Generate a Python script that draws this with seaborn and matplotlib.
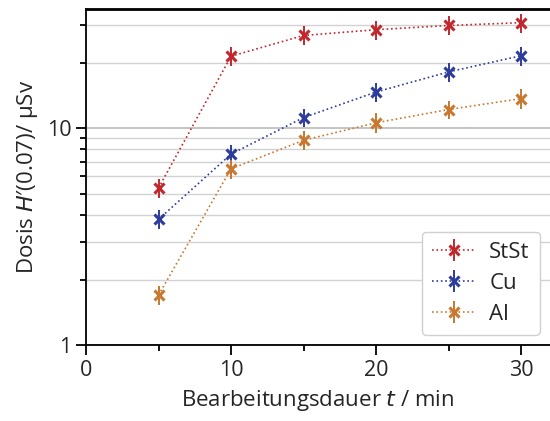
import numpy as np
import pandas as pd
import matplotlib
matplotlib.use("Agg")
import matplotlib.pyplot as plt
import seaborn as sns
from matplotlib.ticker import LogLocator, NullFormatter, FixedLocator, FixedFormatter

# ---- data ----
t_min = [5, 10, 15, 20, 25, 30]
stst = [5.3, 21.5, 26.8, 28.5, 29.8, 30.7]
stst_err = [0.53, 2.1, 2.7, 2.9, 3.0, 3.1]
cu = [3.8, 7.6, 11.2, 14.7, 18.2, 21.6]
cu_err = [0.38, 0.76, 1.1, 1.5, 1.8, 2.2]
al = [1.70, 6.5, 8.8, 10.6, 12.2, 13.7]
al_err = [0.17, 0.65, 0.9, 1.1, 1.2, 1.4]
series_names = ["StSt", "Cu", "Al"]
colors = {"StSt": "#c1272d", "Cu": "#2e3c9c", "Al": "#c8782f"}

df = pd.DataFrame({
    "t": t_min * 3,
    "dose": stst + cu + al,
    "err": stst_err + cu_err + al_err,
    "material": sum([[n] * len(t_min) for n in series_names], []),
})

sns.set_theme(style="white")
plt.rcParams["font.family"] = ["Open Sans", "DejaVu Sans"]

fig = plt.figure(figsize=(5.5, 4.21), dpi=100)
ax = fig.add_axes([0.1564, 0.1805, 0.8436, 0.7981])

handles = []
for name in series_names:
    sub = df[df["material"] == name]
    c = colors[name]
    eb = ax.errorbar(sub["t"], sub["dose"], yerr=sub["err"], fmt="none",
                     ecolor=c, elinewidth=1.4, capsize=0, zorder=3)
    n_before = len(ax.lines)
    sns.lineplot(data=sub, x="t", y="dose", color=c, linestyle=":",
                 linewidth=1.2, marker="x", markersize=7, markeredgewidth=2.2,
                 markeredgecolor=c, ax=ax, legend=False, zorder=4)
    line = ax.lines[n_before]
    handles.append((line, eb))

ax.set_yscale("log")
ax.set_xlim(0, 32)
ax.set_ylim(1, 35.5)

ax.yaxis.set_major_locator(FixedLocator([1, 10]))
ax.yaxis.set_major_formatter(FixedFormatter(["1", "10"]))
ax.yaxis.set_minor_locator(LogLocator(base=10, subs=np.arange(2, 10)))
ax.yaxis.set_minor_formatter(NullFormatter())
ax.set_xticks([0, 10, 20, 30])
ax.set_xticks([5, 15, 25], minor=True)

ax.grid(True, which="major", axis="y", color="#b4b4b4", linewidth=1.1)
ax.grid(True, which="minor", axis="y", color="#d2d2d2", linewidth=1.0)
ax.set_axisbelow(True)

for s in ["left", "bottom", "top"]:
    ax.spines[s].set_visible(True)
    ax.spines[s].set_color("black")
ax.spines["left"].set_linewidth(1.3)
ax.spines["bottom"].set_linewidth(1.3)
ax.spines["top"].set_linewidth(2.0)
ax.spines["right"].set_visible(False)

ax.tick_params(axis="both", which="major", direction="out", length=7, width=1.3,
               labelsize=15.5, color="black", bottom=True, left=True)
ax.tick_params(axis="both", which="minor", direction="out", length=4, width=1.3,
               color="black", bottom=True, left=True)

ax.set_xlabel("Bearbeitungsdauer $\\it{t}$ / min", fontsize=16, labelpad=5)
ax.set_ylabel("Dosis $\\it{H}$\u2032(0.07)/ µSv", fontsize=16, labelpad=5)

leg = ax.legend(handles, series_names, loc="lower right", fontsize=16,
                frameon=True, fancybox=True, framealpha=1, edgecolor="#d0d0d0",
                borderpad=0.45, labelspacing=0.45, handlelength=2.0,
                handletextpad=0.6, borderaxespad=0,
                bbox_to_anchor=(0.978, 0.03))

fig.savefig("out.png", dpi=100)
